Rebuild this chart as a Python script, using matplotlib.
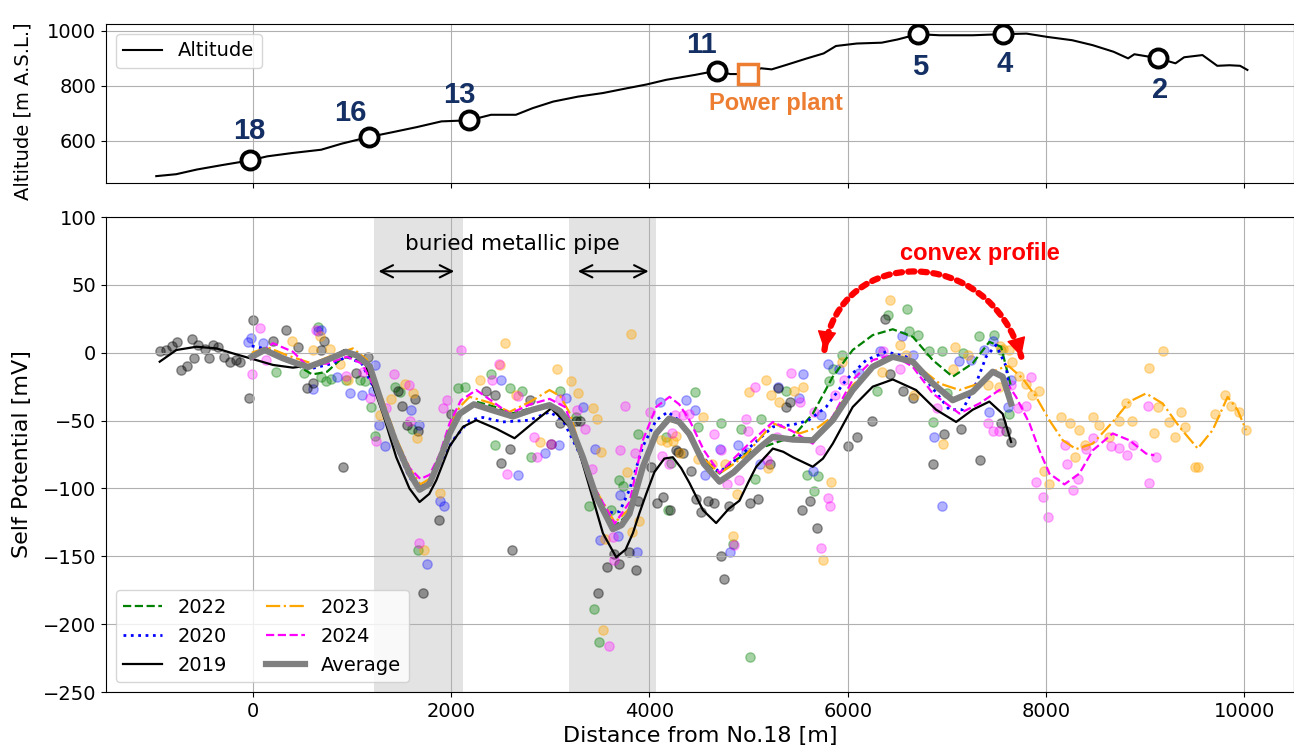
import matplotlib
matplotlib.use("Agg")
import matplotlib.pyplot as plt
from matplotlib.patches import FancyArrowPatch
from matplotlib.path import Path

# ---- top panel: altitude profile ----
alt_x = [-973, -772, -564, -312, -30, 147, 398, 690, 897, 1168, 1400, 1652, 1903, 2185, 2403,
         2654, 2822, 3030, 3280, 3531, 3782, 3970, 4168, 4461, 4678, 4815, 4995, 5126, 5233,
         5378, 5589, 5757, 5881, 6091, 6342, 6506, 6707, 6926, 7261, 7563, 7803, 8012, 8263,
         8470, 8681, 8827, 8890, 9124, 9305, 9392, 9577, 9726, 9849, 9956, 10030]
alt_y = [472, 479, 496, 512, 529, 544, 556, 568, 590, 614, 631, 650, 671, 675, 695,
         695, 719, 743, 761, 774, 792, 805, 822, 840, 855, 843, 843, 864, 860,
         876, 900, 918, 945, 954, 957, 969, 988, 984, 984, 988, 990, 978, 966,
         948, 924, 900, 915, 901, 882, 904, 912, 873, 875, 873, 858]

station_names = ["18", "16", "13", "11", "5", "4", "2"]
station_x = [-30, 1168, 2185, 4678, 6707, 7563, 9124]
station_y = [529, 614, 675, 855, 988, 988, 901]
label_x = [-40, 987, 2085, 4522, 6727, 7583, 9154]
label_y = [637, 702, 767, 948, 869, 880, 785]
plant_x, plant_y = 4995, 843

# ---- bottom panel: fitted SP curves ----
avg_x = [-10, 120, 300, 450, 560, 760, 940, 1050, 1180, 1313, 1447, 1582, 1682, 1783, 1884,
         1985, 2086, 2230, 2400, 2623, 2820, 2993, 3100, 3195, 3329, 3464, 3631, 3720, 3799,
         3934, 4068, 4200, 4300, 4404, 4550, 4707, 4850, 4976, 5110, 5244, 5446, 5647, 5849,
         6050, 6252, 6454, 6655, 6857, 7058, 7260, 7462, 7562, 7647]
avg_y = [-3, 2, -4, -8, -10.5, -5, 0.7, -2, -10, -40, -67, -89, -101, -96.5, -79,
         -59.5, -45, -38, -42, -47, -42, -38.6, -43, -52, -77, -106, -130, -127, -118.6,
         -84, -59.5, -48.5, -51, -60, -82, -95, -88, -79, -70, -62, -64, -64.5, -49.7,
         -27.5, -10.3, -3, -6.6, -22.6, -35, -28.8, -14, -17.7, -37.4]

y2019_x = [-938, -770, -569, -367, -199, 2, 204, 405, 607, 808, 926, 1111, 1313, 1447, 1580,
           1682, 1780, 1851, 1985, 2120, 2254, 2456, 2640, 2859, 3010, 3195, 3300, 3396, 3531,
           3665, 3760, 3833, 3900, 3968, 4050, 4150, 4236, 4320, 4404, 4540, 4673, 4800, 4908,
           5000, 5077, 5245, 5350, 5446, 5647, 5750, 5849, 6050, 6252, 6454, 6689, 6891, 7093,
           7260, 7428, 7562, 7647]
y2019_y = [-6.6, 2, 4.4, 3.2, -0.5, -4.7, -9, -11, -9, -3, 2, -3, -45, -77, -100,
           -110, -104, -94, -69, -54.6, -49.7, -56, -63, -49.7, -41, -54.6, -75, -99, -133,
           -150.7, -145, -133, -118, -104, -88, -78, -77, -85, -96, -116, -125.5, -115, -109,
           -95, -84, -70.6, -73, -77, -84, -78, -67, -40, -25, -19.7, -27.5, -42, -51,
           -42, -36, -45, -65.7]

y2020_x = [-10, 120, 300, 575, 800, 950, 1100, 1300, 1450, 1580, 1690, 1800, 1900, 2019, 2187,
           2321, 2523, 2791, 2993, 3128, 3300, 3450, 3550, 3631, 3700, 3799, 3934, 4068, 4186,
           4300, 4404, 4550, 4707, 4850, 4976, 5245, 5450, 5600, 5782, 5984, 6186, 6387, 6589,
           6790, 7025, 7159, 7294, 7395, 7496, 7597, 7647]
y2020_y = [5, 3, -5, -12, -8, -3, -8, -38, -70, -92, -99, -94, -80, -64.5, -49.7,
           -47.7, -51, -49.7, -43.6, -49.7, -75, -105, -116, -118, -117, -101, -69, -49.7, -43.6,
           -50, -62, -78, -88, -80, -72, -54.6, -53, -50, -40, -20, -5.4, 0.7, -3,
           -20, -42, -42, -22.6, -3, 5.7, -10, -37]

y2022_x = [-10, 150, 350, 600, 750, 900, 1000, 1180, 1313, 1447, 1582, 1690, 1783, 1884, 1985,
           2086, 2250, 2450, 2600, 2800, 3000, 3150, 3300, 3450, 3650, 3800, 3934, 4068, 4186,
           4300, 4404, 4550, 4707, 4850, 4976, 5245, 5446, 5647, 5849, 6050, 6252, 6454, 6655,
           6857, 7058, 7260, 7428, 7546, 7647]
y2022_y = [-1, 3, -5, -16, -14, -4, -3, -10, -40, -67, -90, -101, -97, -80, -60,
           -45, -36, -40, -45, -41, -40, -48, -75, -105, -128, -118, -84, -58, -47.5,
           -52, -62, -80, -89, -80, -74, -67, -62, -45, -17.7, 2, 13, 17.3, 11.8,
           -5.4, -17.7, -7.8, 8, 4.4, -25]

y2023_x = [-10, 150, 350, 600, 800, 1010, 1150, 1313, 1447, 1582, 1690, 1783, 1884, 1985, 2086,
           2187, 2400, 2590, 2800, 2993, 3100, 3200, 3300, 3450, 3650, 3800, 3934, 4068, 4200,
           4300, 4404, 4550, 4707, 4850, 4976, 5245, 5513, 5700, 5849, 6050, 6252, 6454, 6689,
           6925, 7126, 7328, 7462, 7597, 7630, 7765, 7899, 8033, 8168, 8302, 8470, 8672, 8840,
           9008, 9176, 9344, 9529, 9680, 9831, 9932, 10016]
y2023_y = [0, 4, -2, -8, -2, 3.2, -5, -35, -63, -85, -97, -93, -77, -55, -40,
           -32.5, -37, -43.6, -36, -27.5, -32, -45, -70, -100, -125, -115, -82, -58, -50,
           -52, -60, -78, -89, -82, -75, -52, -59.5, -55, -47, -24, -10, -2, -9,
           -22.6, -27.5, -22.6, -14, -9.8, -10.3, -19, -32.5, -49.7, -64.5, -71, -67, -51, -36,
           -30, -37.4, -54.6, -70.6, -57, -32.5, -42.3, -57]

y2024_x = [-10, 204, 405, 540, 750, 950, 1100, 1313, 1447, 1582, 1690, 1783, 1884, 1985, 2100,
           2254, 2400, 2590, 2800, 2993, 3150, 3300, 3450, 3650, 3800, 3934, 4068, 4203, 4300,
           4404, 4550, 4707, 4850, 4976, 5245, 5446, 5647, 5849, 6050, 6252, 6454, 6655, 6857,
           7126, 7328, 7529, 7630, 7697, 7832, 7933, 8033, 8185, 8336, 8470, 8672, 8840, 9008,
           9092]
y2024_y = [-5, 7, 0.7, -9, -8, -3, -8, -37, -65, -85, -93, -90, -75, -52, -35,
           -27.5, -35, -45, -38, -34, -40, -70, -100, -126, -110, -64.5, -40, -32.5, -38,
           -49.7, -72, -88.6, -78, -69, -51, -58, -67, -47, -20, -5.4, -1.7, -10.3, -30,
           -44.8, -37.4, -27.5, -25, -32.5, -52, -72, -89, -97, -89, -72, -59.5, -64.5, -74.3,
           -75.6]

# ---- bottom panel: measured SP points ----
p2019 = [(-938, 1), (-871, 2), (-811, 5), (-764, 8), (-616, 10), (-727, -13), (-663, -10),
         (-592, -4), (-552, 6), (-485, 3), (-441, -4), (-401, 6), (-351, 4), (-293, -3),
         (-226, -7), (-172, -5), (-125, -7), (-41, -33), (2, 24), (204, 9), (339, 17), (456, 4),
         (543, -26), (604, -22), (684, 2), (715, 9), (909, -84), (1037, -15), (1165, -3),
         (1464, -28), (1632, -34), (1508, -39), (1555, -53), (1666, -58), (1713, -177),
         (1878, -123), (2002, -45), (2355, -28), (2439, -31), (2506, -81), (2590, -71),
         (2617, -145), (2791, -35), (3010, -67), (3094, -52), (3262, -50), (3300, -50),
         (3485, -177), (3571, -158), (3638, -148), (3692, -156), (3799, -147), (3867, -160),
         (3883, -109), (4011, -84), (4076, -111), (4142, -106), (4203, -116), (4270, -72),
         (4287, -73), (4337, -74), (4423, -87), (4465, -108), (4519, -117), (4591, -109),
         (4653, -111), (4717, -150), (4757, -167), (4799, -113), (5017, -111), (5093, -108),
         (5211, -82), (5295, -26), (5379, -40), (5419, -36), (5543, -116), (5624, -109),
         (5690, -129), (6000, -69), (6091, -62), (6246, -50), (6377, 25), (6430, -16),
         (6555, -28), (6657, -33), (6858, -82), (6975, -60), (7143, -56), (7338, -79),
         (7546, -52), (7597, -58), (7647, -66)]
p2020 = [(-48, 8), (-14, 11), (103, 7), (607, -27), (657, 16), (684, 17), (849, -18),
         (977, -30), (1105, -31), (1212, -28), (1229, -9), (1273, -53), (1330, -69),
         (1599, -42), (1676, -53), (1756, -156), (1884, -109), (1924, -113), (2506, -20),
         (2674, -90), (2943, -74), (3087, -68), (3154, -33), (3329, -40), (3447, -71),
         (3505, -138), (3685, -135), (3702, -105), (3870, -147), (4102, -36), (4364, -35),
         (4455, -42), (4565, -90), (4707, -71), (4808, -147), (4892, -68), (4969, -73),
         (5120, -82), (5295, -25), (5513, -33), (5547, -16), (5648, -87), (5732, -46),
         (5799, -8), (5916, -12), (6111, -15), (6327, 1), (6548, 12), (6662, -2), (6874, -62),
         (6950, -113), (7126, -6), (7244, -5), (7378, 2), (7422, -44), (7462, 9), (7613, -40),
         (7647, -20)]
p2022 = [(231, -14), (513, -15), (657, 19), (691, -18), (742, -21), (792, -19), (943, -20),
         (1078, -20), (1128, -21), (1195, -40), (1229, -61), (1430, -25), (1481, -29),
         (1609, -56), (1666, -145), (2069, -26), (2136, -25), (2405, -16), (2439, -68),
         (2590, -26), (2718, -28), (2808, -77), (3094, -28), (3262, -47), (3389, -113),
         (3443, -189), (3493, -213), (3615, -116), (3692, -94), (3732, -98), (3883, -60),
         (4169, -62), (4186, -116), (4220, -81), (4455, -29), (4488, -55), (4724, -52),
         (4842, -141), (4926, -56), (5018, -224), (5063, -93), (5127, -49), (5379, -28),
         (5594, -90), (5664, -102), (5699, -91), (5808, -21), (5849, -12), (5943, -2),
         (6300, -28), (6403, 28), (6599, 32), (6622, 16), (6706, 13), (6824, 1), (6857, -51),
         (6952, 1), (7000, -30), (7159, 0), (7321, 12), (7479, 13), (7546, 2), (7623, -45)]
p2023 = [(399, 9), (607, 2), (674, 12), (782, 3), (883, -8), (960, -20), (1279, -46),
         (1397, -34), (1531, -23), (1615, -30), (1655, -63), (1723, -145), (1884, -103),
         (2287, -20), (2489, -9), (2539, 7), (2657, -31), (2899, -66), (3067, -12), (3212, -21),
         (3278, -30), (3427, -41), (3470, -49), (3514, -73), (3535, -204), (3556, -137),
         (3772, -88), (3810, 14), (3828, -132), (3893, -124), (4119, -64), (4176, -66),
         (4236, -65), (4270, -61), (4304, -74), (4488, -78), (4538, -47), (4632, -82),
         (4767, -82), (4842, -135), (4881, -104), (5009, -29), (5177, -20), (5197, -85),
         (5228, -31), (5305, -36), (5463, -28), (5553, -25), (5749, -153), (5833, -95),
         (5943, -7), (6346, -14), (6430, 39), (6528, 6), (6589, -2), (6673, -31), (6965, -67),
         (7058, -12), (7080, 4), (7210, -2), (7411, -24), (7523, -25), (7539, 5), (7563, 3),
         (7623, 2), (7657, -7), (7724, -17), (7798, -23), (7859, -31), (7933, -28), (7979, -87),
         (8033, -97), (8151, -47), (8242, -52), (8296, -77), (8336, -57), (8396, -68),
         (8470, -47), (8530, -53), (8638, -62), (8739, -50), (8806, -37), (8867, -50),
         (9041, -11), (9085, -59), (9125, -40), (9176, 1), (9236, -51), (9303, -62),
         (9361, -44), (9404, -55), (9505, -84), (9529, -84), (9707, -45), (9804, -31),
         (9865, -39), (9942, -44), (10016, -57)]
p2024 = [(-4, -16), (77, 18), (137, -5), (634, 17), (937, -17), (1111, -14), (1185, -33),
         (1239, -65), (1347, -41), (1420, -16), (1575, -24), (1582, -50), (1672, -140),
         (1918, -41), (1958, -35), (2103, 2), (2408, -20), (2482, -8), (2566, -89), (2674, -32),
         (2832, -62), (2865, -77), (3010, -67), (3094, -34), (3268, -42), (3346, -56),
         (3423, -86), (3588, -216), (3628, -136), (3638, -153), (3699, -72), (3749, -39),
         (3850, -74), (4001, -44), (4129, -76), (4202, -82), (4230, -59), (4263, -46),
         (4337, -46), (4397, -45), (4656, -60), (4717, -72), (4780, -97), (4854, -142),
         (4908, -94), (4976, -49), (4992, -58), (5060, -25), (5184, -79), (5285, -62),
         (5427, -15), (5520, -36), (5664, -44), (5722, -72), (5728, -144), (5803, -107),
         (5825, -113), (5876, -31), (5967, -20), (6353, 1), (6528, -12), (6898, -41),
         (7411, -52), (7462, -58), (7529, -58), (7647, -24), (7714, -41), (7798, -39),
         (7849, -18), (7895, -95), (7970, -106), (8023, -121), (8195, -68), (8209, -82),
         (8271, -101), (8322, -93), (8403, -71), (8470, -63), (8655, -69), (8739, -70),
         (8813, -75), (8873, -68), (9024, -39), (9036, -96), (9109, -77)]

pipe_spans = [(1220, 2120), (3190, 4070)]
pipe_arrows = [(1240, 2060), (3250, 4020)]
# dotted double arrow over the convex part (start, two control points, end)
convex_arc = [(5765, 2), (5915, 80), (7425, 80), (7750, -3)]

fig = plt.figure(figsize=(12.94, 7.47), dpi=100)
ax1 = fig.add_axes([0.0819, 0.755, 0.9181, 0.2129])
ax2 = fig.add_axes([0.0819, 0.0736, 0.9181, 0.6359])

xlim = (-1480, 10500)

# top panel
ax1.plot(alt_x, alt_y, color="black", lw=1.5, label="Altitude")
ax1.plot(station_x, station_y, "o", ms=13, mfc="white", mec="black", mew=2.8)
ax1.plot(plant_x, plant_y, "s", ms=14, mfc="white", mec="#ED7D31", mew=2.5)
for name, tx, ty in zip(station_names, label_x, label_y):
    ax1.text(tx, ty, name, ha="center", va="center", fontsize=21, fontweight="bold",
             color="#132f63", family="Liberation Sans")
ax1.text(5277, 735, "Power plant", ha="center", va="center", fontsize=17,
         fontweight="bold", color="#ED7D31", family="Liberation Sans")
ax1.set_xlim(xlim)
ax1.set_ylim(447, 1025)
ax1.set_yticks([600, 800, 1000])
ax1.set_xticks(range(0, 10001, 2000))
ax1.tick_params(labelbottom=False, labelsize=14)
ax1.grid(True)
ax1.legend(loc="upper left", fontsize=14)
ax1.set_ylabel("Altitude [m A.S.L.]", fontsize=14)
ax1.yaxis.set_label_coords(-0.062, 0.45)

# bottom panel
for a, b in pipe_spans:
    ax2.axvspan(a, b, color="gray", alpha=0.22, lw=0, zorder=0)

ax2.scatter(*zip(*p2022), s=45, color="green", alpha=0.35)
ax2.scatter(*zip(*p2020), s=45, color="blue", alpha=0.3)
ax2.scatter(*zip(*p2019), s=45, color="black", alpha=0.38)
ax2.scatter(*zip(*p2023), s=45, color="orange", alpha=0.38)
ax2.scatter(*zip(*p2024), s=45, color="magenta", alpha=0.3)

l22, = ax2.plot(y2022_x, y2022_y, "--", color="green", lw=1.6, label="2022")
l20, = ax2.plot(y2020_x, y2020_y, ":", color="blue", lw=2, label="2020")
l19, = ax2.plot(y2019_x, y2019_y, "-", color="black", lw=1.6, label="2019")
l23, = ax2.plot(y2023_x, y2023_y, "-.", color="orange", lw=1.6, label="2023")
l24, = ax2.plot(y2024_x, y2024_y, "--", color="magenta", lw=1.6, label="2024")
lav, = ax2.plot(avg_x, avg_y, "-", color="gray", lw=4.5, label="Average")

for a, b in pipe_arrows:
    ax2.annotate("", xy=(b, 60), xytext=(a, 60),
                 arrowprops=dict(arrowstyle="<->", color="black", lw=1.5, mutation_scale=22))
ax2.text(2620, 80, "buried metallic pipe", ha="center", va="center", fontsize=15.5)

# dotted arc, then solid heads at both ends along the end tangents
arc_path = Path(convex_arc, [Path.MOVETO, Path.CURVE4, Path.CURVE4, Path.CURVE4])
arc = FancyArrowPatch(path=arc_path, arrowstyle="-", color="red", lw=4.5,
                      linestyle=(0, (1, 1)), transform=ax2.transData, zorder=5)
ax2.add_patch(arc)
head = dict(arrowstyle="-|>,head_length=0.75,head_width=0.38", color="red", lw=1,
            mutation_scale=16, shrinkA=0, shrinkB=0)
(x0, y0), (x1, y1), (x2, y2), (x3, y3) = convex_arc
ax2.annotate("", xy=(x0, y0), xytext=(x0 + (x1 - x0) * 0.12, y0 + (y1 - y0) * 0.12),
             arrowprops=head, zorder=6)
ax2.annotate("", xy=(x3, y3), xytext=(x3 + (x2 - x3) * 0.12, y3 + (y2 - y3) * 0.12),
             arrowprops=head, zorder=6)
ax2.text(7334, 73, "convex profile", ha="center", va="center", fontsize=17,
         fontweight="bold", color="red", family="Liberation Sans")

ax2.set_xlim(xlim)
ax2.set_ylim(-250, 100)
ax2.set_xticks(range(0, 10001, 2000))
ax2.set_yticks(range(-250, 101, 50))
ax2.tick_params(labelsize=14)
ax2.grid(True)
ax2.set_xlabel("Distance from No.18 [m]", fontsize=16)
ax2.set_ylabel("Self Potential [mV]", fontsize=16)
ax2.yaxis.set_label_coords(-0.062, 0.5)
ax2.legend(handles=[l22, l20, l19, l23, l24, lav], ncol=2, loc="lower left", fontsize=14)

fig.savefig("out.png", dpi=100)
